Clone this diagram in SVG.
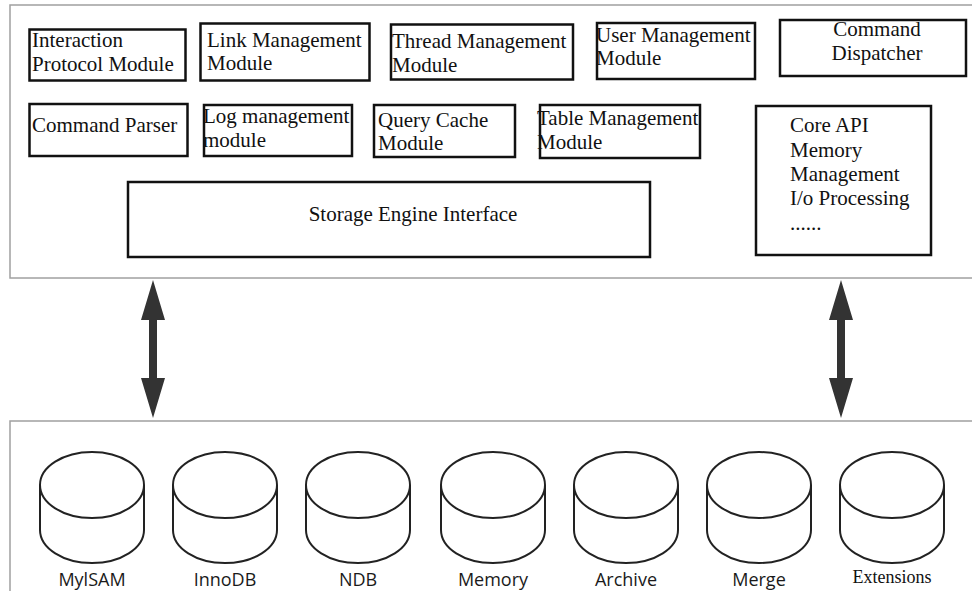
<svg xmlns="http://www.w3.org/2000/svg" width="972" height="591" viewBox="0 0 972 591">
  <style>
    .panel { fill: #ffffff; stroke: #a0a0a0; stroke-width: 1.5; }
    .box { fill: #ffffff; stroke: #111111; stroke-width: 2.5; }
    .t { font-family: "Liberation Serif", "Times New Roman", serif; font-size: 21px; fill: #111111; }
    .mid { text-anchor: middle; }
    .cyl { fill: #ffffff; stroke: #222222; stroke-width: 2; }
    .lbl { font-family: "Open Sans", "Liberation Sans", sans-serif; font-size: 18px; fill: #1a1a1a; text-anchor: middle; }
    .lbl-serif { font-family: "Liberation Serif", "Times New Roman", serif; font-size: 18px; fill: #111111; text-anchor: middle; }
    .arrow { fill: #333333; }
  </style>
  <defs>
    <!-- database cylinder, centred on x=0 -->
    <g id="cylinder">
      <path class="cyl" d="M -52 485 L -52 530 A 52 33 0 0 0 52 530 L 52 485"/>
      <ellipse class="cyl" cx="0" cy="485" rx="52" ry="33"/>
    </g>
    <!-- double-headed vertical arrow, tips at y=0 and y=138 -->
    <path id="dbl-arrow" class="arrow" d="M 0 0 L 12 40 L 4 40 L 4 98 L 12 98 L 0 138 L -12 98 L -4 98 L -4 40 L -12 40 Z"/>
  </defs>

  <rect width="972" height="591" fill="#ffffff"/>

  <!-- upper layer: server core -->
  <g id="server-layer">
    <rect class="panel" x="10" y="5" width="980" height="273"/>
  </g>

  <g id="interaction-protocol">
    <rect class="box" x="29.5" y="29.5" width="156" height="51"/>
    <text class="t" x="32" y="47">Interaction</text>
    <text class="t" x="32" y="71">Protocol Module</text>
  </g>
  <g id="link-management">
    <rect class="box" x="200.5" y="23.5" width="169" height="57"/>
    <text class="t" x="207" y="47">Link Management</text>
    <text class="t" x="207" y="70">Module</text>
  </g>
  <g id="thread-management">
    <rect class="box" x="391" y="24.5" width="182" height="55"/>
    <text class="t" x="392" y="48">Thread Management</text>
    <text class="t" x="392" y="72">Module</text>
  </g>
  <g id="user-management">
    <rect class="box" x="597" y="23" width="158" height="56"/>
    <text class="t" x="596" y="42">User Management</text>
    <text class="t" x="596" y="65">Module</text>
  </g>
  <g id="command-dispatcher">
    <rect class="box" x="780" y="20" width="186" height="56"/>
    <text class="t mid" x="877" y="36">Command</text>
    <text class="t mid" x="877" y="60">Dispatcher</text>
  </g>
  <g id="command-parser">
    <rect class="box" x="29.5" y="104" width="158" height="52"/>
    <text class="t" x="32" y="132">Command Parser</text>
  </g>
  <g id="log-management">
    <rect class="box" x="204" y="105" width="148" height="51"/>
    <text class="t" x="203" y="123">Log management</text>
    <text class="t" x="203" y="147">module</text>
  </g>
  <g id="query-cache">
    <rect class="box" x="374" y="105" width="141" height="52"/>
    <text class="t" x="378" y="127">Query Cache</text>
    <text class="t" x="378" y="150">Module</text>
  </g>
  <g id="table-management">
    <rect class="box" x="540" y="105" width="160" height="53"/>
    <text class="t" x="537" y="125">Table Management</text>
    <text class="t" x="537" y="149">Module</text>
  </g>
  <g id="core-api">
    <rect class="box" x="756" y="106" width="175" height="149"/>
    <text class="t" x="790" y="132">Core API</text>
    <text class="t" x="790" y="157">Memory</text>
    <text class="t" x="790" y="181">Management</text>
    <text class="t" x="790" y="205">I/o Processing</text>
    <text class="t" x="790" y="230">......</text>
  </g>
  <g id="storage-engine-interface">
    <rect class="box" x="128" y="182" width="522" height="75"/>
    <text class="t mid" x="413" y="221">Storage Engine Interface</text>
  </g>

  <!-- lower layer: storage engines -->
  <g id="engine-layer">
    <rect class="panel" x="10" y="421" width="980" height="200"/>
  </g>

  <g id="myisam">
    <use href="#cylinder" x="92"/>
    <text class="lbl" x="92" y="586">MylSAM</text>
  </g>
  <g id="innodb">
    <use href="#cylinder" x="225"/>
    <text class="lbl" x="225" y="586">InnoDB</text>
  </g>
  <g id="ndb">
    <use href="#cylinder" x="358"/>
    <text class="lbl" x="358" y="586">NDB</text>
  </g>
  <g id="memory">
    <use href="#cylinder" x="493"/>
    <text class="lbl" x="493" y="586">Memory</text>
  </g>
  <g id="archive">
    <use href="#cylinder" x="626"/>
    <text class="lbl" x="626" y="586">Archive</text>
  </g>
  <g id="merge">
    <use href="#cylinder" x="759"/>
    <text class="lbl" x="759" y="586">Merge</text>
  </g>
  <g id="extensions">
    <use href="#cylinder" x="892"/>
    <text class="lbl-serif" x="892" y="583">Extensions</text>
  </g>

  <!-- connectors between the two layers -->
  <g id="connectors">
    <use href="#dbl-arrow" x="153" y="280"/>
    <use href="#dbl-arrow" x="841" y="280"/>
  </g>
</svg>
